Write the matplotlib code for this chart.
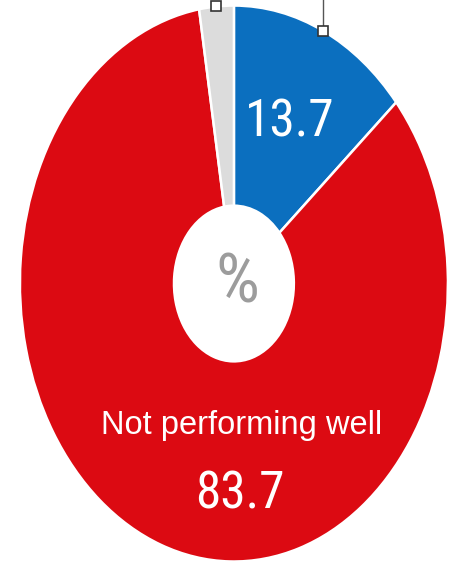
import numpy as np
from matplotlib import pyplot as plt

# DATA
labels = ['Performing well', 'Not performing well', 'No answer']
values = [13.7, 83.7, 2.6]
colors = ['#0b6fbf', '#dc0a12', '#dcdcdc']

fig = plt.figure(figsize=(4.49, 5.64), dpi=100)
ax = fig.add_axes([0, 0, 1, 1])

wedges, _ = ax.pie(values, colors=colors, startangle=90, counterclock=False,
                   radius=1.0, center=(0, 0),
                   wedgeprops=dict(width=0.72, edgecolor='white', linewidth=1.8))

# the pie is squashed horizontally in the original
ax.set_aspect('auto')
ax.set_xlim(-1.093, 1.005)
ax.set_ylim(-1.009, 1.020)
ax.axis('off')

# leader markers at the mid angle of the two small slices
for i in [0, 2]:
    w = wedges[i]
    ang = np.deg2rad((w.theta1 + w.theta2) / 2.)
    x, y = np.cos(ang), np.sin(ang)
    if i == 0:
        ax.plot([x, x], [y, 1.1], color='#555555', lw=1, zorder=4, clip_on=False)
    ax.plot(x, y, 's', ms=7, mfc='white', mec='#333333', mew=1.2, zorder=5,
            clip_on=False)

num_font = ['Roboto Condensed', 'DejaVu Sans']
ax.text(0.26, 0.58, '%.1f' % values[0], color='white', fontsize=37,
        family=num_font, ha='center', va='center')
ax.text(0.035, -0.51, labels[1], color='white', fontsize=23.5,
        family=['Liberation Sans', 'DejaVu Sans'], ha='center', va='center')
ax.text(0.03, -0.76, '%.1f' % values[1], color='white', fontsize=37,
        family=num_font, ha='center', va='center')
ax.text(0.015, 0.0, '%', color='#9c9c9c', fontsize=50,
        family=num_font, ha='center', va='center')

plt.savefig('out.png', dpi=100)
plt.close()
